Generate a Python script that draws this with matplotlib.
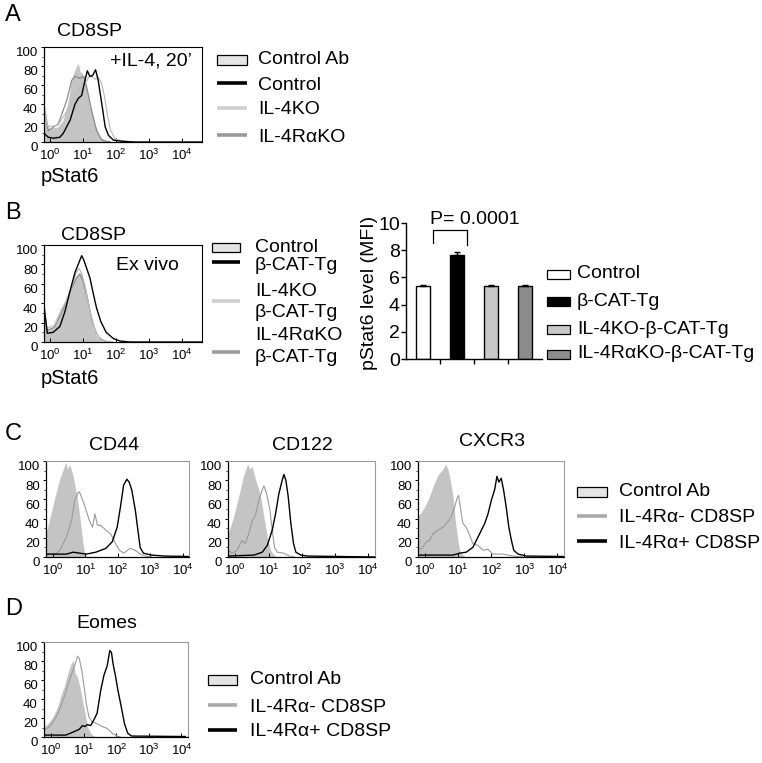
import matplotlib
matplotlib.use("Agg")
import matplotlib.pyplot as plt
import matplotlib.transforms as mtransforms
from matplotlib import font_manager
from matplotlib.patches import Rectangle
from matplotlib.lines import Line2D
import numpy as np

W, H = 762, 763

# ---- panel A: pStat6 after IL-4 (log10 position, % of max) ----
a_ctrlab_log = [-0.17, -0.05, 0.25, 0.40, 0.56, 0.66, 0.79, 0.86, 0.91, 0.99, 1.09, 1.21, 1.36, 1.52, 1.72, 1.92]
a_ctrlab_pct = [40, 14, 16, 23, 44, 67, 79, 83, 74, 72, 58, 40, 19, 5, 1, 0]
a_control_log = [-0.17, -0.05, 0.10, 0.30, 0.40, 0.61, 0.76, 0.86, 0.96, 1.06, 1.13, 1.21, 1.29, 1.38,
                 1.46, 1.52, 1.60, 1.67, 1.77, 1.92, 2.12, 2.53, 4.6]
a_control_pct = [9, 5, 4, 5, 9, 23, 40, 46, 49, 65, 75, 69, 70, 76, 65, 51, 33, 16, 7, 2, 1, 0, 0]
a_il4ko_log = [-0.17, -0.05, 0.25, 0.56, 0.86, 1.06, 1.21, 1.38, 1.46, 1.56, 1.66, 1.74, 1.83, 1.97, 2.2, 2.5]
a_il4ko_pct = [30, 16, 18, 35, 55, 62, 70, 66, 68, 62, 46, 28, 13, 3, 1, 0]
a_il4rko_log = [-0.17, -0.05, 0.25, 0.51, 0.66, 0.76, 0.91, 1.03, 1.13, 1.26, 1.41, 1.57, 1.82]
a_il4rko_pct = [33, 12, 19, 44, 65, 69, 67, 69, 55, 33, 12, 2, 0]

# ---- panel B: pStat6 ex vivo ----
b_ctrl_log = [-0.18, -0.08, 0.13, 0.34, 0.44, 0.59, 0.75, 0.85, 0.93, 1.00, 1.11, 1.21, 1.31, 1.42, 1.57, 1.78]
b_ctrl_pct = [35, 12, 15, 30, 38, 50, 63, 70, 72, 65, 50, 30, 14, 5, 1, 0]
b_bcat_log = [-0.18, -0.08, 0.10, 0.30, 0.45, 0.61, 0.76, 0.89, 0.96, 1.03, 1.11, 1.21, 1.31, 1.41,
              1.54, 1.70, 1.92, 2.12, 2.42, 4.6]
b_bcat_pct = [38, 9, 10, 16, 31, 53, 72, 83, 89, 84, 76, 66, 50, 35, 21, 10, 3.5, 1, 0, 0]
b_il4ko_log = [-0.18, -0.08, 0.13, 0.34, 0.49, 0.64, 0.80, 0.88, 0.97, 1.08, 1.21, 1.34, 1.47, 1.67, 1.88]
b_il4ko_pct = [30, 14, 17, 33, 42, 55, 72, 76, 70, 55, 32, 15, 5, 1, 0]
b_il4rko_log = [-0.18, -0.08, 0.13, 0.39, 0.59, 0.80, 0.90, 1.00, 1.14, 1.26, 1.39, 1.52, 1.73]
b_il4rko_pct = [28, 12, 15, 33, 50, 66, 70, 63, 44, 24, 10, 3, 0]

# ---- panel B bar chart ----
bar_groups = ["Control", "β-CAT-Tg", "IL-4KO-β-CAT-Tg", "IL-4RαKO-β-CAT-Tg"]
bar_mfi = [5.4, 7.65, 5.4, 5.35]
bar_err = [0.03, 0.25, 0.06, 0.06]
bar_colors = ["white", "black", "#c8c8c8", "#8c8c8c"]
p_text = "P= 0.0001"

# ---- panel C ----
cd44_ctrl_log = [-0.22, -0.09, 0.06, 0.21, 0.33, 0.39, 0.44, 0.52, 0.62, 0.74, 0.84, 0.94, 1.00, 1.07]
cd44_ctrl_pct = [24, 42, 63, 82, 93, 99, 92, 96, 84, 63, 38, 10, 2, 0]
cd44_neg_log = [-0.22, 0.06, 0.21, 0.41, 0.57, 0.67, 0.79, 0.84, 0.97, 1.12, 1.22, 1.29, 1.37, 1.47,
                1.63, 1.78, 1.93, 2.05, 2.18, 2.38, 2.54, 2.69, 2.84, 3.04]
cd44_neg_pct = [3, 3, 7, 21, 38, 59, 68, 66, 54, 38, 31, 45, 33, 33, 28, 24, 14, 7, 4, 9, 7, 3, 1, 0]
cd44_pos_log = [-0.22, 0.41, 0.62, 1.02, 1.32, 1.63, 1.83, 1.98, 2.08, 2.18, 2.28, 2.35, 2.43, 2.54,
                2.62, 2.69, 2.79, 3.04, 3.44, 4.2]
cd44_pos_pct = [3, 3, 5, 3, 5, 9, 16, 31, 52, 75, 81, 78, 70, 49, 28, 10, 4, 2, 1, 0.5]

cd122_ctrl_log = [-0.22, -0.05, 0.10, 0.25, 0.37, 0.43, 0.51, 0.61, 0.71, 0.78, 0.86, 0.96, 1.06, 1.16, 1.26]
cd122_ctrl_pct = [24, 42, 63, 85, 97, 92, 94, 80, 70, 59, 42, 21, 7, 2, 0]
cd122_neg_log = [-0.22, -0.10, 0.05, 0.20, 0.30, 0.40, 0.51, 0.61, 0.71, 0.81, 0.86, 0.94, 1.04, 1.11,
                 1.18, 1.26, 1.46, 1.62, 1.77]
cd122_neg_pct = [7, 4, 7, 17, 14, 24, 38, 44, 59, 70, 74, 66, 49, 28, 10, 5, 4, 1, 0]
cd122_pos_log = [-0.22, 0.56, 0.81, 0.96, 1.11, 1.21, 1.31, 1.41, 1.46, 1.52, 1.59, 1.67, 1.75, 1.82,
                 1.97, 2.17, 4.2]
cd122_pos_pct = [1, 2, 5, 12, 28, 45, 66, 80, 86, 80, 63, 35, 14, 5, 2, 1, 0]

cxcr3_ctrl_log = [-0.22, -0.07, 0.08, 0.23, 0.38, 0.54, 0.62, 0.69, 0.76, 0.84, 0.91, 0.99, 1.04, 1.14, 1.24]
cxcr3_ctrl_pct = [42, 49, 59, 73, 85, 92, 97, 91, 80, 63, 38, 17, 7, 2, 0]
cxcr3_neg_log = [-0.22, -0.12, 0.03, 0.13, 0.23, 0.38, 0.54, 0.69, 0.79, 0.89, 0.96, 1.01, 1.06, 1.14,
                 1.24, 1.34, 1.44, 1.60, 1.75, 1.90, 2.05, 2.35, 2.66, 2.96]
cxcr3_neg_pct = [10, 8, 16, 17, 24, 28, 31, 37, 42, 52, 61, 64, 52, 35, 31, 23, 14, 12, 7, 8, 3, 3, 1, 0]
cxcr3_pos_log = [-0.22, 0.84, 1.04, 1.24, 1.44, 1.60, 1.70, 1.80, 1.90, 2.00, 2.10, 2.17, 2.23, 2.30,
                 2.37, 2.45, 2.53, 2.61, 2.68, 2.81, 3.06, 4.2]
cxcr3_pos_pct = [2, 2, 4, 5, 10, 21, 28, 35, 45, 59, 70, 84, 78, 82, 70, 52, 31, 17, 7, 3, 1, 0.5]

# ---- panel D ----
eomes_ctrl_log = [-0.22, -0.10, 0.05, 0.20, 0.30, 0.40, 0.51, 0.61, 0.68, 0.74, 0.81, 0.88, 0.96, 1.04,
                  1.11, 1.21, 1.31, 1.41]
eomes_ctrl_pct = [11, 14, 21, 32, 44, 53, 67, 77, 81, 67, 63, 53, 39, 25, 11, 4, 1, 0]
eomes_neg_log = [-0.22, -0.05, 0.10, 0.25, 0.40, 0.56, 0.71, 0.81, 0.86, 0.94, 1.01, 1.08, 1.16, 1.26,
                 1.41, 1.57, 1.72, 1.87, 2.02, 2.12]
eomes_neg_pct = [7, 11, 18, 28, 42, 60, 74, 85, 83, 70, 53, 35, 21, 16, 14, 11, 9, 4, 1, 0]
eomes_pos_log = [-0.22, 0.45, 0.66, 0.86, 0.96, 1.04, 1.11, 1.21, 1.31, 1.41, 1.52, 1.62, 1.72, 1.80,
                 1.85, 1.90, 1.97, 2.05, 2.15, 2.25, 2.35, 2.47, 4.12]
eomes_pos_pct = [2, 2, 5, 8, 12, 11, 13, 12, 18, 25, 49, 65, 75, 91, 89, 77, 65, 49, 32, 14, 4, 1, 0.5]

FILL = "#c4c4c4"
LIGHT = "#bdbdbd"
DARK = "#8a8a8a"
MID = "#9a9a9a"
BIG = 14
TICK = 9.5

names = {f.name for f in font_manager.fontManager.ttflist}
narrow = "Liberation Sans Narrow" if "Liberation Sans Narrow" in names else "Liberation Sans"
plt.rcParams["font.family"] = ["Liberation Sans", "DejaVu Sans"]
plt.rcParams["mathtext.fontset"] = "custom"
plt.rcParams["mathtext.rm"] = narrow
plt.rcParams["mathtext.it"] = narrow

fig = plt.figure(figsize=(W / 100, H / 100), dpi=100)


def px_axes(x0, y0, x1, y1):
    return fig.add_axes([x0 / W, 1 - y1 / H, (x1 - x0) / W, (y1 - y0) / H])


def ftext(x, y, s, **kw):
    kw.setdefault("fontsize", BIG)
    return fig.text(x / W, 1 - y / H, s, **kw)


def legend_patch(x, y, w, h, face, label, tx):
    fig.add_artist(Rectangle((x / W, 1 - (y + h / 2) / H), w / W, h / H, transform=fig.transFigure,
                             facecolor=face, edgecolor="black", linewidth=0.9))
    ftext(tx, y, label, va="center")


def legend_line(x, y, w, color, label, tx, ly=None):
    ly = y - 2 if ly is None else ly
    fig.add_artist(Line2D([x / W, (x + w) / W], [1 - ly / H] * 2, transform=fig.transFigure,
                          color=color, linewidth=2.6, solid_capstyle="butt"))
    ftext(tx, y, label, va="center")


def flow_axes(ax, lo, hi, gray_frame=False):
    ax.set_xscale("log")
    ax.set_xlim(10 ** lo, 10 ** hi)
    ax.set_ylim(0, 100)
    ax.set_xticks([1, 10, 100, 1000, 10000])
    ax.set_xticklabels([r"$\mathregular{10^{%d}}$" % i for i in range(5)], fontsize=TICK)
    ax.set_yticks(range(0, 101, 20))
    ax.set_yticklabels([str(v) for v in range(0, 101, 20)], fontsize=TICK)
    ax.set_yticks(range(10, 100, 20), minor=True)
    ax.tick_params(axis="x", which="major", direction="in", length=3, width=0.7, pad=4)
    ax.tick_params(axis="x", which="minor", direction="in", length=1.8, width=0.5)
    ax.tick_params(axis="y", which="major", direction="out", length=2.5, width=0.7, pad=2)
    ax.tick_params(axis="y", which="minor", direction="out", length=1.5, width=0.5)
    for side in ("left", "bottom"):
        ax.spines[side].set_linewidth(0.9)
    for side in ("top", "right"):
        ax.spines[side].set_linewidth(0.8)
        if gray_frame:
            ax.spines[side].set_color("#9a9a9a")
    shift = mtransforms.ScaledTranslation(0, -3.5 / 72, fig.dpi_scale_trans)
    for lab in ax.get_yticklabels():
        lab.set_transform(lab.get_transform() + shift)


def fill(ax, logs, pct):
    ax.fill_between(10 ** np.asarray(logs), pct, 0, color=FILL, linewidth=0, zorder=1)


def curve(ax, logs, pct, color, lw=0.9):
    ax.plot(10 ** np.asarray(logs), pct, color=color, linewidth=lw, zorder=2)


# ===== A =====
ftext(5, 15, "A", fontsize=17, va="center")
ftext(90, 31, "CD8SP", ha="center", va="center")
axA = px_axes(44, 47, 202, 142)
flow_axes(axA, -0.18, 4.6)
fill(axA, a_ctrlab_log, a_ctrlab_pct)
curve(axA, a_il4rko_log, a_il4rko_pct, DARK)
curve(axA, a_il4ko_log, a_il4ko_pct, LIGHT)
curve(axA, a_control_log, a_control_pct, "black", 1.0)
ftext(151, 61, "+IL-4, 20\u2019", ha="center", va="center")
ftext(41, 176, "pStat6", va="center", fontsize=14.5)

legend_patch(217, 60, 30, 10, "#e4e4e4", "Control Ab", 258)
legend_line(217, 85, 30, "black", "Control", 258)
legend_line(217, 110, 30, "#cfcfcf", "IL-4KO", 258)
legend_line(217, 137, 30, "#9a9a9a", "IL-4R\u03b1KO", 258)

# ===== B =====
ftext(5, 213, "B", fontsize=17, va="center")
ftext(93, 235, "CD8SP", ha="center", va="center")
axB = px_axes(44, 245, 202, 342)
flow_axes(axB, -0.18, 4.6)
fill(axB, b_ctrl_log, b_ctrl_pct)
curve(axB, b_il4rko_log, b_il4rko_pct, DARK)
curve(axB, b_il4ko_log, b_il4ko_pct, LIGHT)
curve(axB, b_bcat_log, b_bcat_pct, "black", 1.0)
ftext(147, 265, "Ex vivo", ha="center", va="center")
ftext(41, 378, "pStat6", va="center", fontsize=14.5)

legend_patch(212, 247, 28, 9, "#e4e4e4", "Control", 255)
legend_line(212, 265, 28, "black", "\u03b2-CAT-Tg", 255, ly=262)
legend_line(212, 291, 28, "#cfcfcf", "IL-4KO", 255, ly=301)
ftext(255, 313, "\u03b2-CAT-Tg", va="center")
legend_line(212, 335, 28, "#9a9a9a", "IL-4R\u03b1KO", 255, ly=352)
ftext(255, 357, "\u03b2-CAT-Tg", va="center")

axBar = px_axes(406, 223, 542, 359)
xpos = np.arange(len(bar_groups))
axBar.bar(xpos, bar_mfi, width=0.43, color=bar_colors, edgecolor="black", linewidth=1.0, zorder=2)
axBar.errorbar(xpos, bar_mfi, yerr=[[0] * len(bar_err), bar_err], fmt="none", ecolor="black",
               elinewidth=1.0, capsize=2.5, capthick=1.0, zorder=3)
axBar.set_xlim(-0.5, len(bar_groups) - 0.5)
axBar.set_ylim(0, 10)
axBar.set_yticks(range(0, 11, 2))
axBar.set_yticklabels([str(v) for v in range(0, 11, 2)], fontsize=BIG)
axBar.set_xticks(xpos[:-1] + 0.5)
axBar.set_xticklabels([])
axBar.tick_params(axis="y", direction="out", length=3.5, width=1.0, pad=1)
axBar.tick_params(axis="x", direction="out", length=3.5, width=1.0)
for side in ("top", "right"):
    axBar.spines[side].set_visible(False)
for side in ("left", "bottom"):
    axBar.spines[side].set_linewidth(1.0)
# significance bracket between Control and beta-CAT-Tg
axBar.plot([0.3, 0.3, 1.3, 1.3], [8.5, 9.5, 9.5, 8.4], color="black", linewidth=0.9, clip_on=False)
axBar.text(0.2, 9.65, p_text, ha="left", va="bottom", fontsize=BIG)
ftext(370, 293, "pStat6 level (MFI)", rotation=90, ha="center", va="center")

for i, (lab, col) in enumerate(zip(bar_groups, bar_colors)):
    legend_patch(547, [274, 301, 329, 354][i], 23, 9, col, lab, 577)

# ===== C =====
ftext(5, 434, "C", fontsize=17, va="center")
c_panels = [
    ("CD44", (46, 461, 189, 557), 114, 446, cd44_ctrl_log, cd44_ctrl_pct, cd44_neg_log, cd44_neg_pct,
     cd44_pos_log, cd44_pos_pct),
    ("CD122", (228, 461, 375, 557), 302, 446, cd122_ctrl_log, cd122_ctrl_pct, cd122_neg_log, cd122_neg_pct,
     cd122_pos_log, cd122_pos_pct),
    ("CXCR3", (418, 461, 564, 557), 492, 442, cxcr3_ctrl_log, cxcr3_ctrl_pct, cxcr3_neg_log, cxcr3_neg_pct,
     cxcr3_pos_log, cxcr3_pos_pct),
]
for title, box, tx, ty, cl, cp, nl, npct, pl, ppct in c_panels:
    ftext(tx, ty, title, ha="center", va="center")
    ax = px_axes(*box)
    flow_axes(ax, -0.22, 4.2, gray_frame=True)
    fill(ax, cl, cp)
    curve(ax, nl, npct, MID, 0.8)
    curve(ax, pl, ppct, "black", 1.0)

legend_patch(577, 492, 30, 10, "#e4e4e4", "Control Ab", 619)
legend_line(577, 518, 30, "#aaaaaa", "IL-4R\u03b1- CD8SP", 619)
legend_line(577, 543, 30, "black", "IL-4R\u03b1+ CD8SP", 619)

# ===== D =====
ftext(5, 609, "D", fontsize=17, va="center")
ftext(107, 624, "Eomes", ha="center", va="center")
axD = px_axes(44, 642, 188, 737)
flow_axes(axD, -0.22, 4.2, gray_frame=True)
fill(axD, eomes_ctrl_log, eomes_ctrl_pct)
curve(axD, eomes_neg_log, eomes_neg_pct, MID, 0.8)
curve(axD, eomes_pos_log, eomes_pos_pct, "black", 1.0)

legend_patch(208, 680, 29, 10, "#e4e4e4", "Control Ab", 250)
legend_line(208, 707, 29, "#aaaaaa", "IL-4R\u03b1- CD8SP", 250)
legend_line(208, 732, 29, "black", "IL-4R\u03b1+ CD8SP", 250)

fig.savefig("out.png", dpi=100)
plt.close(fig)
print("Saved: out.png")
